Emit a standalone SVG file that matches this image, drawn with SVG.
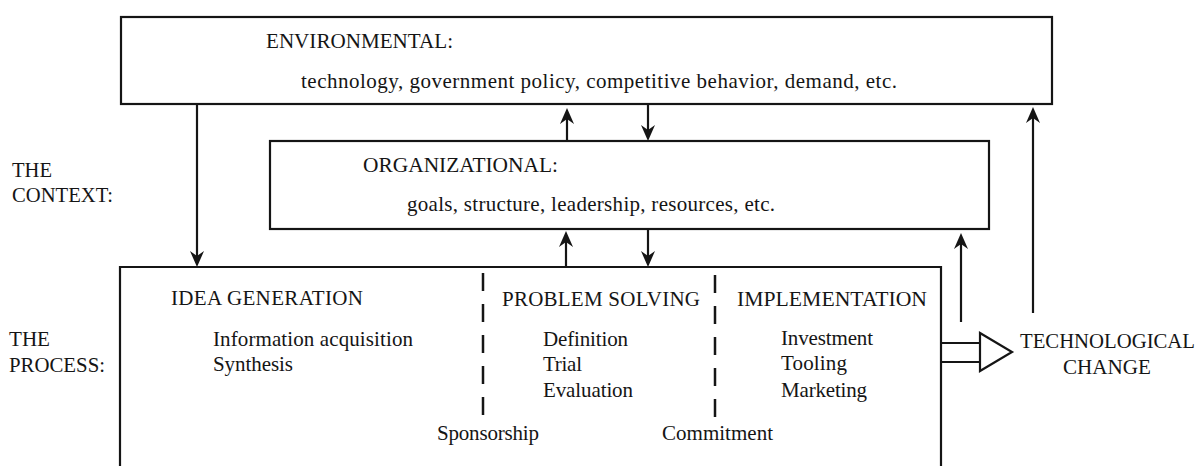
<svg xmlns="http://www.w3.org/2000/svg" width="1197" height="466" viewBox="0 0 1197 466">
<style>
text { font-family: "Liberation Serif", "Times New Roman", serif; font-size: 21px; fill: #151515; }
.box { fill: none; stroke: #151515; stroke-width: 2.2; }
.arr { fill: none; stroke: #151515; stroke-width: 2.2; marker-end: url(#ah); }
.dash { fill: none; stroke: #151515; stroke-width: 2.5; stroke-dasharray: 18 13; }
.ln { fill: none; stroke: #151515; stroke-width: 2.2; }
</style>
<defs>
<marker id="ah" viewBox="-17 -8 19 16" markerWidth="19" markerHeight="16" refX="-8" refY="0" orient="auto" markerUnits="userSpaceOnUse">
<path d="M0,0 L-16,-7 L-11,0 L-16,7 Z" fill="#151515"/>
</marker>
</defs>
<rect width="1197" height="466" fill="#ffffff"/>

<g id="context-label">
<text x="12" y="177" textLength="40" lengthAdjust="spacingAndGlyphs">THE</text>
<text x="12" y="202" textLength="101" lengthAdjust="spacingAndGlyphs">CONTEXT:</text>
</g>
<g id="process-label">
<text x="9" y="346" textLength="41" lengthAdjust="spacingAndGlyphs">THE</text>
<text x="9" y="372" textLength="96" lengthAdjust="spacingAndGlyphs">PROCESS:</text>
</g>

<g id="environmental">
<rect class="box" x="121" y="17" width="931" height="87"/>
<text x="266" y="48" textLength="187" lengthAdjust="spacingAndGlyphs">ENVIRONMENTAL:</text>
<text x="301" y="88" textLength="596" lengthAdjust="spacing">technology, government policy, competitive behavior, demand, etc.</text>
</g>

<g id="organizational">
<rect class="box" x="270" y="141" width="719" height="88"/>
<text x="363" y="172" textLength="195" lengthAdjust="spacingAndGlyphs">ORGANIZATIONAL:</text>
<text x="407" y="211" textLength="368" lengthAdjust="spacing">goals, structure, leadership, resources, etc.</text>
</g>

<g id="process">
<path class="box" d="M120,480 V267 H941 V480"/>
<line class="dash" x1="483" y1="273" x2="483" y2="417"/>
<line class="dash" x1="715" y1="275" x2="715" y2="418"/>
<g id="idea-generation">
<text x="171" y="305" textLength="192" lengthAdjust="spacing">IDEA GENERATION</text>
<text x="213" y="346" textLength="200" lengthAdjust="spacing">Information acquisition</text>
<text x="213" y="371" textLength="80" lengthAdjust="spacing">Synthesis</text>
</g>
<g id="problem-solving">
<text x="502" y="306" textLength="198" lengthAdjust="spacing">PROBLEM SOLVING</text>
<text x="543" y="346" textLength="85" lengthAdjust="spacing">Definition</text>
<text x="543" y="371" textLength="39" lengthAdjust="spacing">Trial</text>
<text x="543" y="397" textLength="90" lengthAdjust="spacing">Evaluation</text>
</g>
<g id="implementation">
<text x="737" y="306" textLength="190" lengthAdjust="spacingAndGlyphs">IMPLEMENTATION</text>
<text x="781" y="345" textLength="92" lengthAdjust="spacing">Investment</text>
<text x="781" y="370" textLength="66" lengthAdjust="spacing">Tooling</text>
<text x="781" y="397" textLength="86" lengthAdjust="spacing">Marketing</text>
</g>
<text x="437" y="440" textLength="102" lengthAdjust="spacing">Sponsorship</text>
<text x="662" y="440" textLength="111" lengthAdjust="spacing">Commitment</text>
</g>

<g id="technological-change">
<text x="1020" y="348" textLength="175" lengthAdjust="spacingAndGlyphs">TECHNOLOGICAL</text>
<text x="1063" y="374" textLength="88" lengthAdjust="spacingAndGlyphs">CHANGE</text>
</g>

<g id="connectors">
<line class="arr" x1="197" y1="105" x2="197" y2="259"/>
<line class="arr" x1="567" y1="141" x2="567" y2="116"/>
<line class="arr" x1="648" y1="104" x2="648" y2="133"/>
<line class="arr" x1="566" y1="267" x2="566" y2="239"/>
<line class="arr" x1="648" y1="230" x2="648" y2="259"/>
<line class="arr" x1="961" y1="322" x2="961" y2="241"/>
<line class="arr" x1="1033" y1="313" x2="1033" y2="115"/>
<line class="ln" x1="941" y1="343" x2="980" y2="343"/>
<line class="ln" x1="941" y1="362" x2="980" y2="362"/>
<path class="ln" d="M980,333 L980,371 L1012,352 Z" fill="#ffffff"/>
</g>
</svg>
